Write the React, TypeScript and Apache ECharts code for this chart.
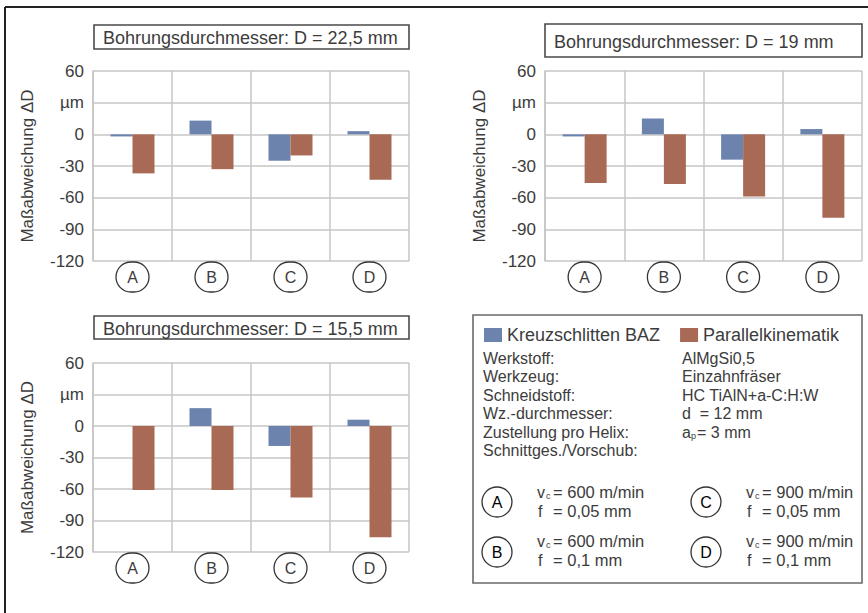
import React, { useEffect, useRef } from "react";
import * as echarts from "echarts";

const categories = ["A", "B", "C", "D"];
const seriesNames = ["Kreuzschlitten BAZ", "Parallelkinematik"];
const panelTitles = [
  "Bohrungsdurchmesser: D = 22,5 mm",
  "Bohrungsdurchmesser: D = 19 mm",
  "Bohrungsdurchmesser: D = 15,5 mm",
];
const kreuz225 = [-2, 13, -25, 3];
const parallel225 = [-37, -33, -20, -43];
const kreuz19 = [-2, 15, -24, 5];
const parallel19 = [-46, -47, -59, -79];
const kreuz155 = [0, 17, -19, 6];
const parallel155 = [-61, -61, -68, -106];
const yMin = -120;
const yMax = 60;
const yStep = 30;
const unitTickValue = 30;
const unitLabel = "µm";
const yAxisName = "Maßabweichung ΔD";

const infoLabels = [
  "Werkstoff:",
  "Werkzeug:",
  "Schneidstoff:",
  "Wz.-durchmesser:",
  "Zustellung pro Helix:",
  "Schnittges./Vorschub:",
];
const infoValues = ["AlMgSi0,5", "Einzahnfräser", "HC TiAlN+a-C:H:W", "d  = 12 mm"];
const conditionLetters = ["A", "B", "C", "D"];
const conditionVc = ["= 600 m/min", "= 600 m/min", "= 900 m/min", "= 900 m/min"];
const conditionF = ["= 0,05 mm", "= 0,1 mm", "= 0,05 mm", "= 0,1 mm"];

const BLUE = "#6b83ad";
const RED = "#a96a55";
const GRIDC = "#c6c6c6";
const TXT = "#3c3c3c";
const FONT = "'Liberation Sans', Arial, sans-serif";

export default function App() {
  const ref = useRef<HTMLDivElement>(null);
  useEffect(() => {
    if (!ref.current) return;
    const chart = echarts.init(ref.current, undefined, { renderer: "svg" });
    const grids = [
      { left: 93, top: 71, width: 316, height: 190 },
      { left: 545, top: 71, width: 317, height: 190 },
      { left: 93, top: 363, width: 316, height: 189 },
    ];
    const data = [
      [kreuz225, parallel225],
      [kreuz19, parallel19],
      [kreuz155, parallel155],
    ];
    const xAxes = grids.map((_, i) => ({
      type: "category",
      gridIndex: i,
      data: categories,
      axisLine: { show: false },
      axisTick: { show: false },
      splitLine: { show: true, lineStyle: { color: GRIDC, width: 1.5 } },
      axisLabel: {
        margin: 1,
        formatter: (v: string) => `{c|${v}}`,
        rich: {
          c: {
            width: 33,
            height: 30,
            lineHeight: 30,
            borderRadius: 16,
            borderColor: "#333",
            borderWidth: 1.3,
            align: "center",
            fontSize: 16,
            color: TXT,
            fontFamily: FONT,
          },
        },
      },
    }));
    const yAxes = grids.map((_, i) => ({
      type: "value",
      gridIndex: i,
      min: yMin,
      max: yMax,
      interval: yStep,
      name: yAxisName,
      nameLocation: "middle",
      nameGap: 57,
      nameTextStyle: { fontSize: 17, color: TXT, fontFamily: FONT },
      axisLine: { show: true, lineStyle: { color: GRIDC, width: 1.5 } },
      axisTick: { show: false },
      splitLine: { show: true, lineStyle: { color: GRIDC, width: 1.5 } },
      axisLabel: {
        margin: 9,
        fontSize: 17,
        color: TXT,
        fontFamily: FONT,
        formatter: (v: number) => (v === unitTickValue ? unitLabel : String(v)),
      },
    }));
    const series: any[] = [];
    data.forEach((pair, i) => {
      pair.forEach((vals, j) => {
        series.push({
          type: "bar",
          name: seriesNames[j],
          xAxisIndex: i,
          yAxisIndex: i,
          data: vals,
          barWidth: 22,
          barGap: "0%",
          itemStyle: { color: j === 0 ? BLUE : RED },
        });
      });
    });

    const txt = (x: number, y: number, text: string, fontSize: number, extra: any = {}) => ({
      type: "text",
      x,
      y,
      style: { text, fontSize, lineHeight: fontSize, fill: TXT, fontFamily: FONT, verticalAlign: "middle", ...extra },
    });

    const graphic: any[] = [];
    // outer frame
    graphic.push({ type: "line", shape: { x1: 5, y1: 7, x2: 868, y2: 7 }, style: { stroke: "#222", lineWidth: 2 } });
    graphic.push({ type: "line", shape: { x1: 5, y1: 7, x2: 5, y2: 613 }, style: { stroke: "#222", lineWidth: 2 } });
    // title boxes
    const titleBoxes = [
      { x: 94, y: 25, w: 315, h: 24 },
      { x: 545, y: 24, w: 317, h: 33 },
      { x: 94, y: 316, w: 315, h: 23 },
    ];
    titleBoxes.forEach((b, i) => {
      graphic.push({
        type: "rect",
        shape: { x: b.x, y: b.y, width: b.w, height: b.h },
        style: { fill: "#fff", stroke: "#4a4a4a", lineWidth: 1.6 },
      });
      graphic.push(txt(b.x + 9, b.y + b.h / 2 + 1, panelTitles[i], 18));
    });
    // info box
    graphic.push({
      type: "rect",
      shape: { x: 473, y: 315, width: 389, height: 268 },
      style: { fill: "#fff", stroke: "#6a6a6a", lineWidth: 1.6 },
      z: -1,
    });
    const lineYs = [358, 376.5, 395, 413.5, 432, 450.5];
    infoLabels.forEach((t, i) => graphic.push(txt(483, lineYs[i], t, 16)));
    infoValues.forEach((t, i) => graphic.push(txt(682, lineYs[i], t, 16)));
    // a_p = 3 mm
    graphic.push(txt(682, lineYs[4], "a", 16));
    graphic.push(txt(691, lineYs[4] + 4, "p", 9));
    graphic.push(txt(697, lineYs[4], "= 3 mm", 16));

    const condPos = [
      { cx: 497, cy: 502, ty: 492 },
      { cx: 497, cy: 552, ty: 541 },
      { cx: 706, cy: 502, ty: 492 },
      { cx: 706, cy: 552, ty: 541 },
    ];
    conditionLetters.forEach((l, i) => {
      const p = condPos[i];
      graphic.push({
        type: "text",
        x: p.cx,
        y: p.cy,
        style: {
          text: `{c|${l}}`,
          align: "center",
          verticalAlign: "middle",
          rich: {
            c: {
              width: 30,
              height: 30,
              lineHeight: 30,
              borderRadius: 15,
              borderColor: "#333",
              borderWidth: 1.3,
              align: "center",
              fontSize: 16,
              color: TXT,
              fontFamily: FONT,
            },
          },
        },
      });
      const tx = p.cx + 40;
      graphic.push(txt(tx, p.ty, "v", 16));
      graphic.push(txt(tx + 9, p.ty + 4, "c", 9));
      graphic.push(txt(tx + 16, p.ty, conditionVc[i], 16.5));
      graphic.push(txt(tx + 1, p.ty + 19, "f", 16));
      graphic.push(txt(tx + 16, p.ty + 19, conditionF[i], 16.5));
    });

    chart.setOption({
      animation: false,
      backgroundColor: "#fff",
      grid: grids,
      xAxis: xAxes,
      yAxis: yAxes,
      series,
      legend: {
        data: seriesNames,
        left: 484,
        top: 326,
        padding: 0,
        itemWidth: 18,
        itemHeight: 14,
        itemGap: 20,
        icon: "rect",
        textStyle: { fontSize: 18, color: TXT, fontFamily: FONT },
      },
      graphic,
    });
    return () => chart.dispose();
  }, []);
  return (
    <div
      ref={ref}
      style={{ position: "fixed", left: 0, top: 0, width: 868, height: 613, background: "#fff" }}
    />
  );
}
